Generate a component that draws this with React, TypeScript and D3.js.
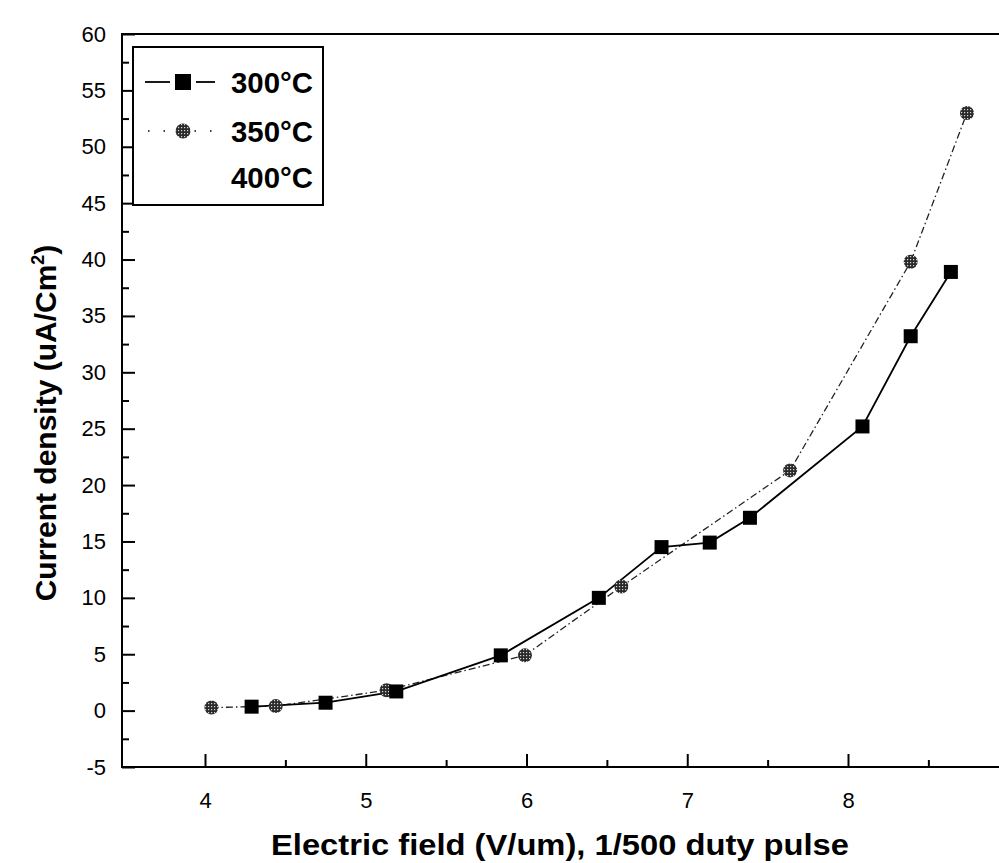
import React, { useEffect, useRef } from "react";
import * as d3 from "d3";

// 300°C series
const field300 = [4.29, 4.75, 5.19, 5.84, 6.45, 6.84, 7.14, 7.39, 8.09, 8.39, 8.64];
const current300 = [0.35, 0.7, 1.7, 4.9, 10.0, 14.5, 14.9, 17.1, 25.2, 33.2, 38.9];

// 350°C series
const field350 = [4.04, 4.44, 5.13, 5.99, 6.59, 7.64, 8.39, 8.74];
const current350 = [0.27, 0.4, 1.8, 4.9, 11.0, 21.3, 39.8, 53.0];

const legendLabels = ["300°C", "350°C", "400°C"];

const xTicks = [4, 5, 6, 7, 8];
const xMinorTicks = [4.5, 5.5, 6.5, 7.5, 8.5];
const yTicks = [-5, 0, 5, 10, 15, 20, 25, 30, 35, 40, 45, 50, 55, 60];
const yMinorTicks = [-2.5, 2.5, 7.5, 12.5, 17.5, 22.5, 27.5, 32.5, 37.5, 42.5, 47.5, 52.5, 57.5];

const xTitle = "Electric field (V/um), 1/500 duty pulse";
const yTitle = "Current density (uA/Cm";

export default function App() {
  const ref = useRef<SVGSVGElement | null>(null);

  useEffect(() => {
    const width = 999;
    const height = 863;
    const left = 122;
    const font = "'Liberation Sans', Arial, Helvetica, sans-serif";

    const svg = d3.select(ref.current);
    svg.selectAll("*").remove();
    svg.attr("width", width).attr("height", height);

    const x = d3.scaleLinear().domain([4, 8]).range([205, 848]);
    const y = d3.scaleLinear().domain([-5, 60]).range([767, 34]);
    const right = x(9);

    // pattern for the grey dotted circles
    const defs = svg.append("defs");
    const pat = defs.append("pattern")
      .attr("id", "dots")
      .attr("width", 3)
      .attr("height", 3)
      .attr("patternUnits", "userSpaceOnUse");
    pat.append("rect").attr("width", 3).attr("height", 3).attr("fill", "#2a2a2a");
    pat.append("rect").attr("x", 1).attr("y", 1).attr("width", 1.2).attr("height", 1.2).attr("fill", "#d8d8d8");

    // frame
    svg.append("rect")
      .attr("x", left)
      .attr("y", y(60))
      .attr("width", right - left)
      .attr("height", y(-5) - y(60))
      .attr("fill", "none")
      .attr("stroke", "#000")
      .attr("stroke-width", 2);

    const fmt = (d: any) => String(d);

    // x axis
    const gx = svg.append("g").attr("transform", `translate(0,${y(-5)})`);
    gx.call(d3.axisBottom(x).tickValues(xTicks).tickSize(-13).tickPadding(25).tickFormat(fmt));
    gx.append("g").call(d3.axisBottom(x).tickValues(xMinorTicks).tickSize(-7).tickFormat(() => ""));

    // y axis
    const gy = svg.append("g").attr("transform", `translate(${left},0)`);
    gy.call(d3.axisLeft(y).tickValues(yTicks).tickSize(-13).tickPadding(16).tickFormat(fmt));
    gy.append("g").call(d3.axisLeft(y).tickValues(yMinorTicks).tickSize(-7).tickFormat(() => ""));

    svg.selectAll(".domain").remove();
    svg.selectAll(".tick line").attr("stroke", "#000").attr("stroke-width", 2);
    svg.selectAll(".tick text")
      .attr("fill", "#000")
      .style("font-family", font)
      .style("font-size", "22px");

    // series
    const line = d3.line<[number, number]>().x(d => x(d[0])).y(d => y(d[1]));
    const d300 = field300.map((f, i) => [f, current300[i]] as [number, number]);
    const d350 = field350.map((f, i) => [f, current350[i]] as [number, number]);

    svg.append("path")
      .attr("d", line(d350))
      .attr("fill", "none")
      .attr("stroke", "#222")
      .attr("stroke-width", 1.3)
      .attr("stroke-dasharray", "7,3,1.5,3");

    svg.append("path")
      .attr("d", line(d300))
      .attr("fill", "none")
      .attr("stroke", "#000")
      .attr("stroke-width", 1.8);

    svg.append("g").selectAll("circle")
      .data(d350)
      .enter()
      .append("circle")
      .attr("cx", d => x(d[0]))
      .attr("cy", d => y(d[1]))
      .attr("r", 7)
      .attr("fill", "url(#dots)");

    svg.append("g").selectAll("rect")
      .data(d300)
      .enter()
      .append("rect")
      .attr("x", d => x(d[0]) - 7)
      .attr("y", d => y(d[1]) - 7)
      .attr("width", 14)
      .attr("height", 14)
      .attr("fill", "#000");

    // legend
    const lg = svg.append("g");
    lg.append("rect")
      .attr("x", 133)
      .attr("y", 47)
      .attr("width", 190)
      .attr("height", 158)
      .attr("fill", "#fff")
      .attr("stroke", "#000")
      .attr("stroke-width", 2);

    const rows = [82, 131, 177];
    [[145, 170], [196, 215]].forEach(([a, b]) => {
      lg.append("line")
        .attr("x1", a).attr("x2", b)
        .attr("y1", rows[0]).attr("y2", rows[0])
        .attr("stroke", "#000").attr("stroke-width", 1.8);
    });
    lg.append("rect")
      .attr("x", 183 - 8).attr("y", rows[0] - 8)
      .attr("width", 16).attr("height", 16)
      .attr("fill", "#000");
    lg.append("line")
      .attr("x1", 148).attr("x2", 215)
      .attr("y1", rows[1]).attr("y2", rows[1])
      .attr("stroke", "#000").attr("stroke-width", 1.5)
      .attr("stroke-dasharray", "1.5,14");
    lg.append("circle")
      .attr("cx", 183).attr("cy", rows[1])
      .attr("r", 7.5)
      .attr("fill", "url(#dots)");

    lg.selectAll("text.lab")
      .data(legendLabels)
      .enter()
      .append("text")
      .attr("class", "lab")
      .attr("x", 231)
      .attr("y", (d, i) => rows[i] + 11)
      .attr("textLength", 82)
      .attr("lengthAdjust", "spacingAndGlyphs")
      .style("font-family", font)
      .style("font-size", "30px")
      .style("font-weight", "bold")
      .text(d => d);

    // axis titles
    svg.append("text")
      .attr("x", 560)
      .attr("y", 855)
      .attr("text-anchor", "middle")
      .attr("textLength", 578)
      .attr("lengthAdjust", "spacingAndGlyphs")
      .style("font-family", font)
      .style("font-size", "30px")
      .style("font-weight", "bold")
      .text(xTitle);

    const yt = svg.append("text")
      .attr("transform", "translate(56,423) rotate(-90)")
      .attr("text-anchor", "middle")
      .style("font-family", font)
      .style("font-size", "30px")
      .style("font-weight", "bold");
    yt.append("tspan").text(yTitle);
    yt.append("tspan").attr("dy", -12).style("font-size", "18px").text("2");
    yt.append("tspan").attr("dy", 12).text(")");
  }, []);

  return (
    <svg ref={ref} style={{ position: "absolute", left: 0, top: 0, background: "#fff" }} />
  );
}
